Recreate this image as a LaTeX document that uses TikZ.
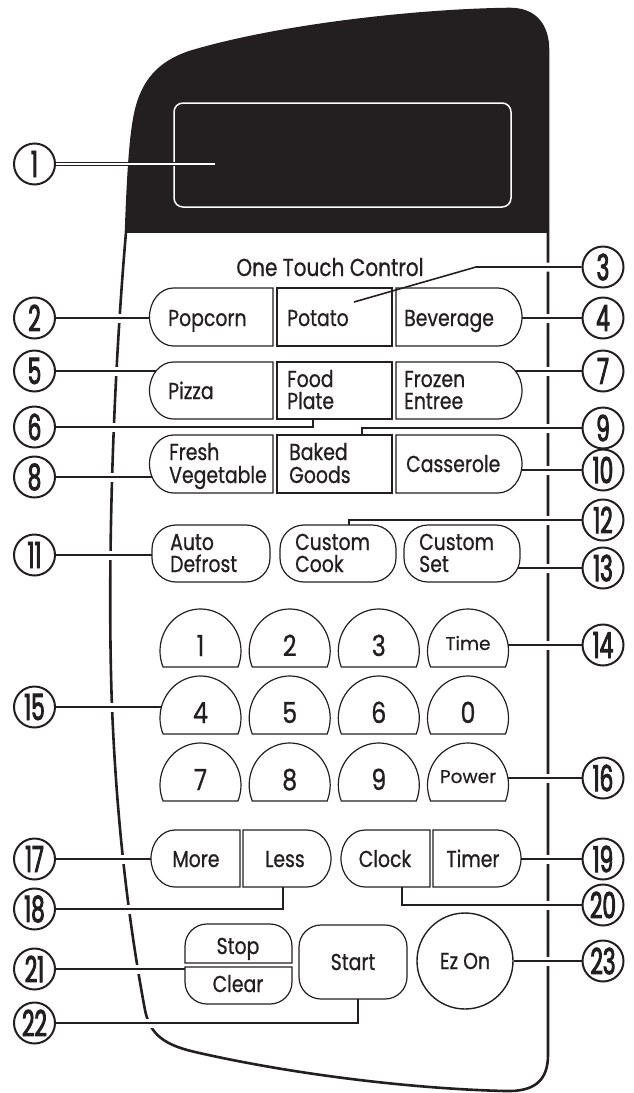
\documentclass[tikz,border=0pt]{standalone}
\usepackage{fontspec}
\setmainfont{Poppins}[FakeStretch=0.82, FakeBold=0.8]
\newfontfamily\plainfont{Poppins}[FakeBold=0.6]
\newfontfamily\circfont{Poppins}[FakeStretch=0.6, FakeBold=2.5]
\definecolor{ink}{RGB}{35,31,32}
\pgfdeclarelayer{background}
\pgfsetlayers{background,main}
% left segment with rounded left end: x1,y1,x2,y2
\newcommand{\LeftSeg}[4]{\draw[btn] ({#1+24},#2) -- (#3,#2) -- (#3,#4) -- ({#1+24},#4) arc[start angle=90,end angle=270,x radius=24,y radius={(#4-#2)/2}] -- cycle;}
% right segment with rounded right end
\newcommand{\RightSeg}[4]{\draw[btn] (#1,#2) -- ({#3-24},#2) arc[start angle=270,end angle=450,x radius=24,y radius={(#4-#2)/2}] -- (#1,#4) -- cycle;}
% square middle segment
\newcommand{\MidSeg}[4]{\draw[btn] (#1,#2) -- (#3,#2) -- (#3,#4) -- (#1,#4) -- cycle;}
% arched key: centre x, top y
\newcommand{\TombKey}[2]{\draw[btn] ({#1-37.44},{#2+58}) arc[start angle=157.6,end angle=382.4,x radius=40.5,y radius=42] -- cycle;}
\tikzset{
  btn/.style={draw=ink, line width=1.2},
  callout/.style={circle, draw=ink, line width=2, fill=white, minimum size=41, inner sep=0, text=ink, font=\circfont\fontsize{36}{36}\selectfont},
  leader/.style={draw=ink, line width=1.6, preaction={draw=white, line width=9}},
  lbl/.style={text=ink, inner sep=0, font=\fontsize{23}{23}\selectfont},
  keylbl/.style={text=ink, inner sep=0, font=\fontsize{29}{29}\selectfont, anchor=base},
  smalllbl/.style={text=ink, inner sep=0, font=\plainfont\fontsize{18.5}{18.5}\selectfont, anchor=base}
}
\begin{document}
\begin{tikzpicture}[x=1pt, y=-1pt]
\useasboundingbox (0,0) rectangle (633,1093);

% callout circles
\node[callout] (c1) at (34.5,164) {1};
\node[callout] (c2) at (34.5,318) {2};
\node[callout] (c3) at (603,267) {3};
\node[callout] (c4) at (603,318) {4};
\node[callout] (c5) at (34.5,371) {5};
\node[callout] (c6) at (34.5,427) {6};
\node[callout] (c7) at (603,371) {7};
\node[callout] (c8) at (34.5,477) {8};
\node[callout] (c9) at (603,428) {9};
\node[callout] (c10) at (603,470) {10};
\node[callout] (c11) at (34.5,555) {11};
\node[callout] (c12) at (603,520) {12};
\node[callout] (c13) at (603,568) {13};
\node[callout] (c14) at (603,645) {14};
\node[callout] (c15) at (34.5,707) {15};
\node[callout] (c16) at (603,778) {16};
\node[callout] (c17) at (34.5,859) {17};
\node[callout] (c18) at (34.5,909) {18};
\node[callout] (c19) at (603,859) {19};
\node[callout] (c20) at (603,905) {20};
\node[callout] (c21) at (34.5,969) {21};
\node[callout] (c22) at (34.5,1023) {22};
\node[callout] (c23) at (603,961) {23};

% leader end points
\coordinate (d1) at (215,164);
\coordinate (p2) at (149.5,318);
\coordinate (b3) at (476,267);
\coordinate (p3) at (354,302);
\coordinate (p4) at (522,318);
\coordinate (p5) at (156,371);
\coordinate (p6) at (313,419);
\coordinate (p7) at (515.5,371);
\coordinate (p8) at (152,477);
\coordinate (p9) at (362,435);
\coordinate (p10) at (521.5,470);
\coordinate (p11) at (152,555);
\coordinate (p12) at (349,525);
\coordinate (p13) at (517.8,568);
\coordinate (p14) at (508,645);
\coordinate (p15) at (161.4,707);
\coordinate (p16) at (507.9,778);
\coordinate (p17) at (151,859);
\coordinate (p18) at (283,887);
\coordinate (p19) at (521,859);
\coordinate (p20) at (402,887);
\coordinate (p21) at (185,969);
\coordinate (p22) at (358,999);

% Ez On and Start buttons
\node[circle, draw=ink, line width=1.4, minimum size=96, inner sep=0, text=ink, font=\fontsize{23}{23}\selectfont] (ezon) at (465,961) {Ez On};
\node[btn, rounded corners=22, minimum width=108, minimum height=74, inner sep=0, text=ink, font=\fontsize{23}{23}\selectfont] (start) at (353,962) {Start};

\begin{pgfonlayer}{background}
% body outline
\def\outline{(126,232)
 .. controls (128,180) and (130,140) .. (135,115)
 .. controls (142,80) and (160,62) .. (190,52)
 .. controls (280,25) and (420,10) .. (510,9)
 .. controls (535,9) and (548,25) .. (548,50)
 -- (548,1055)
 .. controls (548,1080) and (535,1092) .. (505,1091)
 .. controls (420,1089) and (300,1076) .. (195,1052)
 .. controls (165,1045) and (150,1035) .. (145,1010)
 .. controls (130,930) and (117,830) .. (112,707)
 .. controls (108,600) and (110,420) .. (126,232) -- cycle}
\begin{scope}
  \clip (0,0) rectangle (633,232);
  \fill[ink] \outline;
\end{scope}
\draw[ink, line width=2.6, line join=round] \outline;
% display window
\draw[white, line width=1.5, rounded corners=9] (174,103) rectangle (511,207);
% leader 1 (double line over the dark panel)
\draw[ink, line width=4.5] (c1) -- (d1);
\draw[white, line width=2] (c1) -- (d1);
% other leaders
\path[leader] (c2) -- (p2);
\path[leader] (c3) -- (b3) -- (p3);
\path[leader] (c4) -- (p4);
\path[leader] (c5) -- (p5);
\path[leader] (c6) -| (p6);
\path[leader] (c7) -- (p7);
\path[leader] (c8) -- (p8);
\path[leader] (c9) -| (p9);
\path[leader] (c10) -- (p10);
\path[leader] (c11) -- (p11);
\path[leader] (c12) -| (p12);
\path[leader] (c13) -- (p13);
\path[leader] (c14) -- (p14);
\path[leader] (c15) -- (p15);
\path[leader] (c16) -- (p16);
\path[leader] (c17) -- (p17);
\path[leader] (c18) -| (p18);
\path[leader] (c19) -- (p19);
\path[leader] (c20) -| (p20);
\path[leader] (c21) -- (p21);
\path[leader] (c22) -| (p22);
\path[leader] (c23) -- (ezon);
\end{pgfonlayer}

% One touch rows
\LeftSeg{149.5}{288}{273}{346}
\MidSeg{277}{288}{392}{346}
\RightSeg{396}{288}{522}{346}
\LeftSeg{149.5}{362}{273}{419}
\MidSeg{277}{362}{392}{419}
\RightSeg{396}{362}{522}{419}
\LeftSeg{149.5}{435}{273}{493}
\MidSeg{277}{435}{392}{493}
\RightSeg{396}{435}{522}{493}
% custom row
\draw[btn, rounded corners=24] (152,525) rectangle (270,582);
\draw[btn, rounded corners=24] (280,525) rectangle (396,582);
\draw[btn, rounded corners=24] (404,525) rectangle (520,582);
% keypad
\foreach \cx in {200.5,289.7,378.8,468} {
  \TombKey{\cx}{609}
  \TombKey{\cx}{676}
  \TombKey{\cx}{743}
}
% more/less, clock/timer
\LeftSeg{151}{830}{240}{887}
\RightSeg{243}{830}{331}{887}
\LeftSeg{341}{830}{430}{887}
\RightSeg{433}{830}{521}{887}
% stop / clear
\draw[btn] (185,963) -- (185,946) arc[start angle=180,end angle=270,radius=22] -- (270,924) arc[start angle=270,end angle=360,radius=22] -- (292,963) -- cycle;
\draw[btn] (185,967) -- (292,967) -- (292,982) arc[start angle=0,end angle=90,radius=22] -- (207,1004) arc[start angle=90,end angle=180,radius=22] -- cycle;

% labels
\node[lbl, anchor=base, font=\fontsize{24.5}{24.5}\selectfont] (otc) at (330,276) {One Touch Control};
\node[lbl, anchor=base west] (popcorn) at (168,326) {Popcorn};
\node[lbl, anchor=base west] (potato) at (287,326) {Potato};
\node[lbl, anchor=base west] (beverage) at (404,326) {Beverage};
\node[lbl, anchor=base west] (pizza) at (168,399) {Pizza};
\node[lbl, anchor=base west] (food) at (287,387) {Food};
\node[lbl, anchor=base west] (plate) at (287,409) {Plate};
\node[lbl, anchor=base west] (frozen) at (404,387) {Frozen};
\node[lbl, anchor=base west] (entree) at (404,409) {Entree};
\node[lbl, anchor=base west] (fresh) at (169,460) {Fresh};
\node[lbl, anchor=base west] (vegetable) at (169,483) {Vegetable};
\node[lbl, anchor=base west] (baked) at (289,460) {Baked};
\node[lbl, anchor=base west] (goods) at (289,483) {Goods};
\node[lbl, anchor=base west] (casserole) at (406,472) {Casserole};
\node[lbl, anchor=base west] (auto) at (170,550) {Auto};
\node[lbl, anchor=base west] (defrost) at (170,572) {Defrost};
\node[lbl, anchor=base west] (custom1) at (295,550) {Custom};
\node[lbl, anchor=base west] (cook) at (295,572) {Cook};
\node[lbl, anchor=base west] (custom2) at (419,550) {Custom};
\node[lbl, anchor=base west] (set) at (419,572) {Set};
\node[keylbl] (k1) at (200.5,656) {1};
\node[keylbl] (k2) at (289.7,656) {2};
\node[keylbl] (k3) at (378.8,656) {3};
\node[smalllbl] (time) at (468,650) {Time};
\node[keylbl] (k4) at (200.5,723) {4};
\node[keylbl] (k5) at (289.7,723) {5};
\node[keylbl] (k6) at (378.8,723) {6};
\node[keylbl] (k0) at (468,723) {0};
\node[keylbl] (k7) at (200.5,790) {7};
\node[keylbl] (k8) at (289.7,790) {8};
\node[keylbl] (k9) at (378.8,790) {9};
\node[smalllbl] (power) at (468,783) {Power};
\node[lbl, anchor=base] (more) at (196,867) {More};
\node[lbl, anchor=base] (less) at (285,867) {Less};
\node[lbl, anchor=base] (clock) at (385,867) {Clock};
\node[lbl, anchor=base] (timer) at (473,867) {Timer};
\node[lbl, anchor=base] (stop) at (238,954) {Stop};
\node[lbl, anchor=base] (clear) at (238,992) {Clear};
\end{tikzpicture}
\end{document}
